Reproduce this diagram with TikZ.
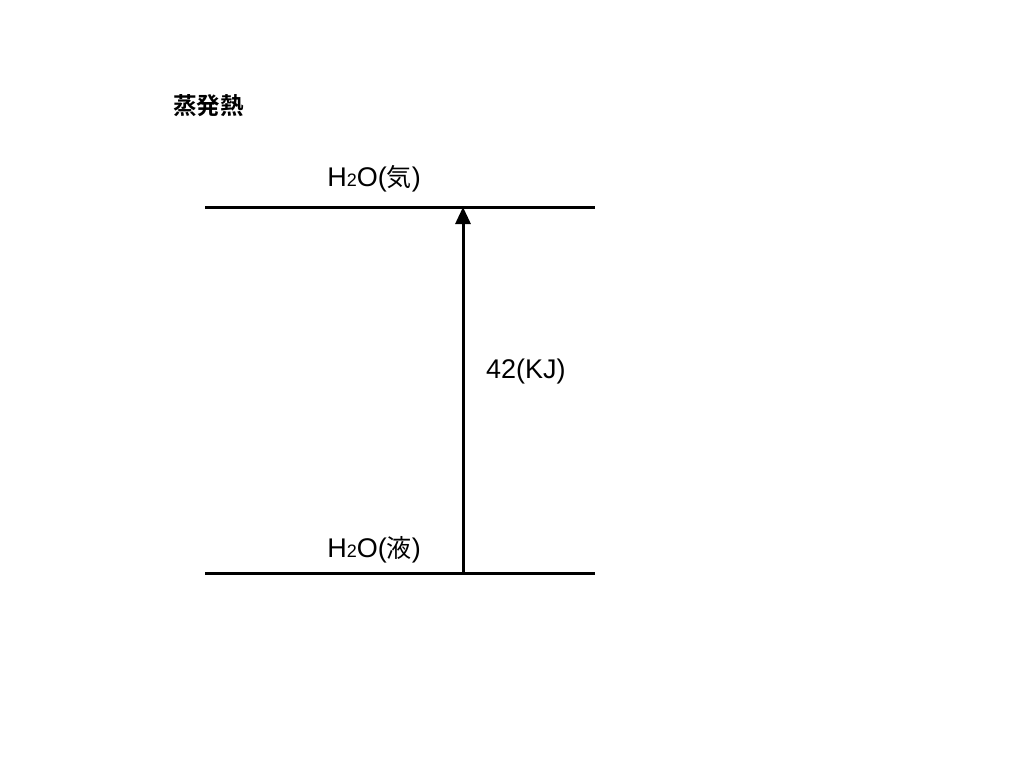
\documentclass[tikz,border=0pt]{standalone}
\usepackage{fontspec}
\setmainfont{Liberation Sans}
\newfontfamily\jp{Noto Sans CJK JP}
\newfontfamily\titlefont{Noto Sans CJK JP Bold}
\usetikzlibrary{arrows.meta}

\tikzset{
    level/.style={line width=3pt},
    heat/.style={line width=3pt, -{Triangle[length=17pt, width=15pt]}},
    label/.style={font=\fontsize{27}{30}\selectfont, inner sep=0pt, anchor=base}
}
\newcommand{\htwoo}[1]{H{\fontsize{18}{20}\selectfont 2}O({\jp\fontsize{25}{30}\selectfont #1})}

\begin{document}
\begin{tikzpicture}[x=1pt, y=-1pt]
    \useasboundingbox (0,0) rectangle (1024,768);
    % title
    \node[inner sep=0pt, anchor=base west, font=\titlefont\fontsize{23.5}{26}\selectfont] (title) at (173,114) {蒸発熱};
    % energy levels
    \coordinate (gasL) at (205,207);
    \coordinate (gasR) at (595,207);
    \coordinate (liqL) at (205,573);
    \coordinate (liqR) at (595,573);
    \coordinate (heatS) at (463,573);
    \coordinate (heatE) at (463,207);
    \draw[level] (gasL) -- (gasR);
    \draw[level] (liqL) -- (liqR);
    \draw[heat] (heatS) -- (heatE);
    \node[label] (gas) at (374,186) {\htwoo{気}};
    \node[label] (liq) at (374,557) {\htwoo{液}};
    \node[label, anchor=base west] (kj) at (486,378) {42(KJ)};
\end{tikzpicture}
\end{document}
